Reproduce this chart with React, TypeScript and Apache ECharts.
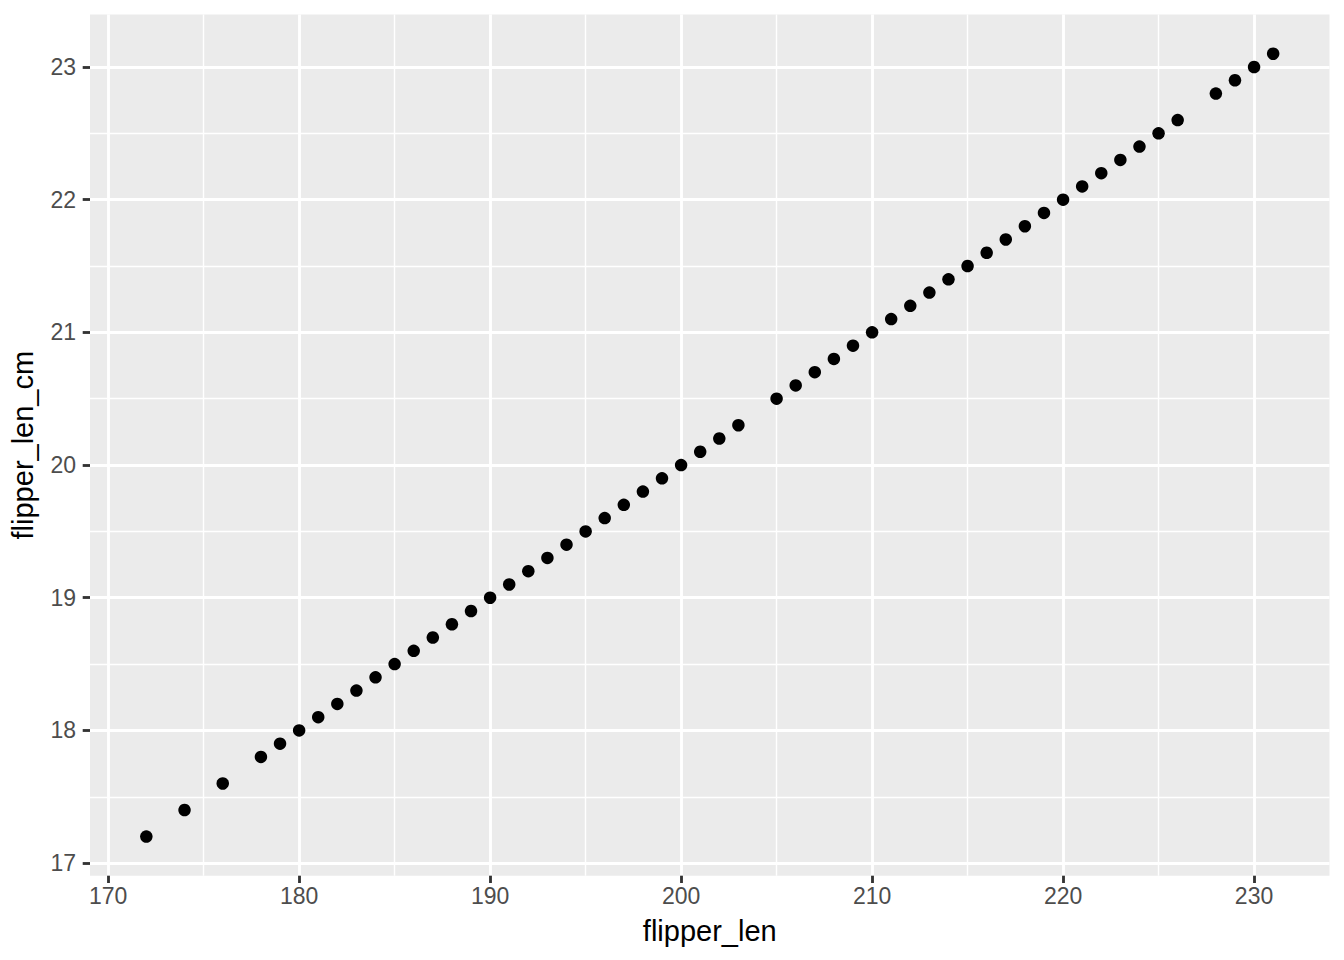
import React, { useEffect, useRef } from "react";
import * as echarts from "echarts";

const flipperLen = [
  172, 174, 176, 178, 179, 180, 181, 182, 183, 184, 185, 186, 187, 188, 189,
  190, 191, 192, 193, 194, 195, 196, 197, 198, 199, 200, 201, 202, 203, 205,
  206, 207, 208, 209, 210, 211, 212, 213, 214, 215, 216, 217, 218, 219, 220,
  221, 222, 223, 224, 225, 226, 228, 229, 230, 231,
];
const flipperLenCm = [
  17.2, 17.4, 17.6, 17.8, 17.9, 18.0, 18.1, 18.2, 18.3, 18.4, 18.5, 18.6, 18.7,
  18.8, 18.9, 19.0, 19.1, 19.2, 19.3, 19.4, 19.5, 19.6, 19.7, 19.8, 19.9, 20.0,
  20.1, 20.2, 20.3, 20.5, 20.6, 20.7, 20.8, 20.9, 21.0, 21.1, 21.2, 21.3, 21.4,
  21.5, 21.6, 21.7, 21.8, 21.9, 22.0, 22.1, 22.2, 22.3, 22.4, 22.5, 22.6, 22.8,
  22.9, 23.0, 23.1,
];
const xMajorTicks = [170, 180, 190, 200, 210, 220, 230];
const xMinorTicks = [175, 185, 195, 205, 215, 225];
const yMajorTicks = [17, 18, 19, 20, 21, 22, 23];
const yMinorTicks = [17.5, 18.5, 19.5, 20.5, 21.5, 22.5];

const X_MIN = 169.05;
const X_MAX = 233.95;
const Y_MIN = 16.905;
const Y_MAX = 23.395;

const FONT = "'Liberation Sans', Arial, Helvetica, sans-serif";

export default function App() {
  const ref = useRef<HTMLDivElement>(null);
  useEffect(() => {
    if (!ref.current) return;
    const chart = echarts.init(ref.current, undefined, { renderer: "svg" });
    const hidden = {
      axisLine: { show: false },
      axisLabel: { show: false },
    };
    chart.setOption({
      animation: false,
      backgroundColor: "#FFFFFF",
      grid: {
        left: 88,
        right: 14.5,
        top: 14.6,
        bottom: 84.3,
        show: true,
        backgroundColor: "#EBEBEB",
        borderWidth: 0,
      },
      xAxis: [
        {
          type: "value",
          min: X_MIN,
          max: X_MAX,
          name: "flipper_len",
          nameLocation: "middle",
          nameGap: 41,
          nameTextStyle: { color: "#000000", fontSize: 29, fontFamily: FONT },
          axisLine: { show: false },
          axisTick: {
            show: true,
            customValues: xMajorTicks,
            length: 7.3,
            lineStyle: { color: "#333333", width: 2.84 },
          },
          axisLabel: {
            customValues: xMajorTicks,
            color: "#4D4D4D",
            fontSize: 23,
            fontFamily: FONT,
            margin: 9,
          },
          splitLine: { show: true, lineStyle: { color: "#FFFFFF", width: 2.84 } },
          z: 1,
        },
        {
          type: "value",
          min: X_MIN,
          max: X_MAX,
          position: "bottom",
          ...hidden,
          axisTick: { show: false, customValues: xMinorTicks },
          splitLine: { show: true, lineStyle: { color: "#FFFFFF", width: 1.42 } },
          z: 0,
        },
      ],
      yAxis: [
        {
          type: "value",
          min: Y_MIN,
          max: Y_MAX,
          name: "flipper_len_cm",
          nameLocation: "middle",
          nameGap: 53,
          nameTextStyle: { color: "#000000", fontSize: 29, fontFamily: FONT },
          axisLine: { show: false },
          axisTick: {
            show: true,
            customValues: yMajorTicks,
            length: 7.3,
            lineStyle: { color: "#333333", width: 2.84 },
          },
          axisLabel: {
            customValues: yMajorTicks,
            color: "#4D4D4D",
            fontSize: 23,
            fontFamily: FONT,
            margin: 14,
          },
          splitLine: { show: true, lineStyle: { color: "#FFFFFF", width: 2.84 } },
          z: 1,
        },
        {
          type: "value",
          min: Y_MIN,
          max: Y_MAX,
          position: "left",
          ...hidden,
          axisTick: { show: false, customValues: yMinorTicks },
          splitLine: { show: true, lineStyle: { color: "#FFFFFF", width: 1.42 } },
          z: 0,
        },
      ],
      series: [
        {
          type: "scatter",
          xAxisIndex: 0,
          yAxisIndex: 0,
          symbol: "circle",
          symbolSize: 12.5,
          itemStyle: { color: "#000000", opacity: 1 },
          data: flipperLen.map((x, i) => [x, flipperLenCm[i]]),
          z: 5,
        },
      ],
    });
    return () => chart.dispose();
  }, []);
  return (
    <div
      ref={ref}
      style={{ position: "absolute", left: 0, top: 0, width: 1344, height: 960 }}
    />
  );
}
